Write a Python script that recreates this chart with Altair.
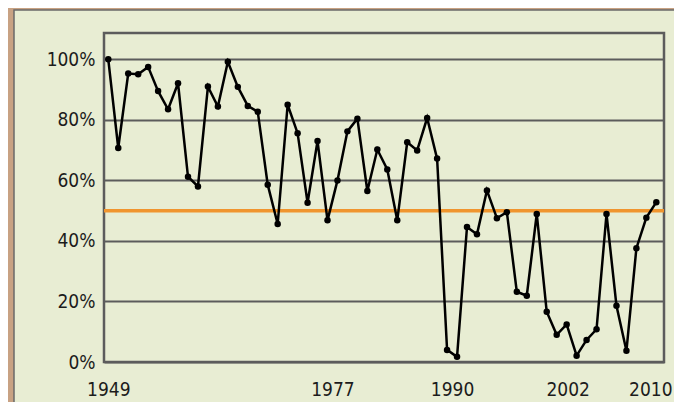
import altair as alt
import pandas as pd

# share (%) per point
share = [100, 70.7, 95.3, 95.1, 97.5, 89.5, 83.5, 92.1, 61.2, 58,
         91, 84.4, 99.2, 90.9, 84.6, 82.7, 58.6, 45.6, 85, 75.6,
         52.6, 73, 46.8, 60, 76.2, 80.4, 56.5, 70.2, 63.6, 46.8,
         72.6, 69.9, 80.6, 67.2, 4, 1.7, 44.6, 42.2, 56.7, 47.5,
         49.5, 23.2, 21.9, 48.9, 16.6, 9, 12.4, 2.1, 7.3, 10.8,
         48.9, 18.6, 3.7, 37.6, 47.7, 52.8]
idx = list(range(len(share)))

year_tick_pos = [0, 22.5, 34.5, 46.1, 54.4]
year_tick_labels = ["1949", "1977", "1990", "2002", "2010"]
y_ticks = [0, 20, 40, 60, 80, 100]
threshold = [50]

FONT = "DejaVu Sans Condensed, Liberation Sans Narrow, sans-serif"
GRID = "#5c5c5c"
GREEN = "#e8edd3"
TAN = "#c8a283"
ORANGE = "#f0952e"

df = pd.DataFrame({"i": idx, "v": share})
one = pd.DataFrame({"a": [0]})
thr = pd.DataFrame({"t": threshold})

label_expr = " : ".join(
    f"datum.value == {p} ? '{l}'" for p, l in zip(year_tick_pos, year_tick_labels)
) + " : ''"

xscale = alt.Scale(domain=[-0.43, 55.77], nice=False, zero=False)
yscale = alt.Scale(domain=[0, 108.7], nice=False)

xaxis = alt.Axis(values=year_tick_pos, labelExpr=label_expr, grid=False,
                 labelPadding=18, title=None)
yaxis = alt.Axis(values=y_ticks, labelExpr="datum.value + '%'", grid=True,
                 labelPadding=9, title=None)

tan_left = alt.Chart(one).mark_rect(color=TAN).encode(
    x=alt.value(-96), x2=alt.value(-90), y=alt.value(-25), y2=alt.value(369))
tan_top = alt.Chart(one).mark_rect(color=TAN).encode(
    x=alt.value(-96), x2=alt.value(570), y=alt.value(-25), y2=alt.value(-23))
outline = alt.Chart(one).mark_rect(fillOpacity=0, stroke="#6a6a6a", strokeWidth=1.5).encode(
    x=alt.value(-90), x2=alt.value(580), y=alt.value(-23), y2=alt.value(380))

rule = alt.Chart(thr).mark_rule(color=ORANGE, strokeWidth=3.5).encode(
    y=alt.Y("t:Q", scale=yscale, axis=yaxis))

line = alt.Chart(df).mark_line(color="black", strokeWidth=2.5).encode(
    x=alt.X("i:Q", scale=xscale, axis=xaxis),
    y=alt.Y("v:Q", scale=yscale, axis=yaxis))
pts = alt.Chart(df).mark_point(filled=True, color="black", size=42, opacity=1).encode(
    x=alt.X("i:Q", scale=xscale, axis=xaxis),
    y=alt.Y("v:Q", scale=yscale, axis=yaxis))

chart = alt.layer(tan_left, tan_top, outline, rule, line, pts).properties(
    width=560, height=329,
    autosize=alt.AutoSizeParams(type="none"),
    padding={"left": 96, "top": 25, "right": 10, "bottom": 40},
    background=GREEN,
).configure_view(
    stroke=GRID, strokeWidth=2.5
).configure_axis(
    gridColor=GRID, gridWidth=2, gridOpacity=1,
    domain=False, ticks=False,
    labelFont=FONT, labelFontSize=19, labelColor="#1c1c1c",
)

chart.save("out.html", embed_options={"renderer": "svg", "actions": False})
